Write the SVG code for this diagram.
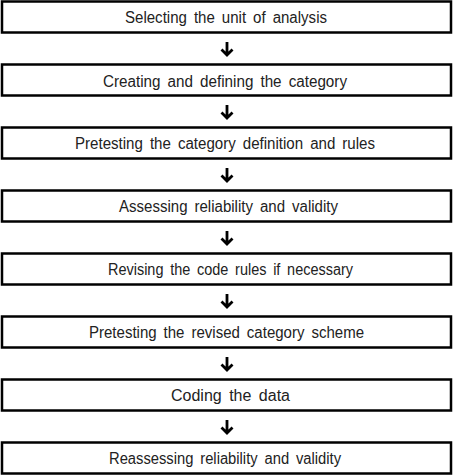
<svg xmlns="http://www.w3.org/2000/svg" width="453" height="476" viewBox="0 0 453 476">
<defs>
<style>
.box rect{fill:#fff;stroke:#000;stroke-width:2.5}
.box text{font-family:"Liberation Sans",Arial,sans-serif;font-size:16px;fill:#222;text-anchor:middle;word-spacing:3px}
.conn path{fill:none;stroke:#000;stroke-width:2.8;stroke-linecap:butt;stroke-linejoin:miter}
</style>
</defs>
<rect width="453" height="476" fill="#fff"/>
<g id="n1" class="box"><rect x="2" y="1.5" width="449" height="31"/><text x="226" y="23" textLength="202" lengthAdjust="spacingAndGlyphs">Selecting the unit of analysis</text></g>
<g id="n2" class="box"><rect x="2" y="64.5" width="449" height="31"/><text x="225" y="86.5" textLength="244" lengthAdjust="spacingAndGlyphs">Creating and defining the category</text></g>
<g id="n3" class="box"><rect x="2" y="127.5" width="449" height="31"/><text x="225" y="149" textLength="300" lengthAdjust="spacingAndGlyphs">Pretesting the category definition and rules</text></g>
<g id="n4" class="box"><rect x="2" y="190.5" width="449" height="31"/><text x="228.5" y="212" textLength="219" lengthAdjust="spacingAndGlyphs">Assessing reliability and validity</text></g>
<g id="n5" class="box"><rect x="2" y="253.5" width="449" height="31"/><text x="230.5" y="275" textLength="245" lengthAdjust="spacingAndGlyphs">Revising the code rules if necessary</text></g>
<g id="n6" class="box"><rect x="2" y="316.5" width="449" height="31"/><text x="226.5" y="338" textLength="275" lengthAdjust="spacingAndGlyphs">Pretesting the revised category scheme</text></g>
<g id="n7" class="box"><rect x="2" y="379.5" width="449" height="31"/><text x="230.5" y="401" textLength="119" lengthAdjust="spacingAndGlyphs">Coding the data</text></g>
<g id="n8" class="box"><rect x="2" y="442.5" width="449" height="31"/><text x="225" y="464" textLength="232" lengthAdjust="spacingAndGlyphs">Reassessing reliability and validity</text></g>
<g id="connectors" class="conn">
<path d="M227 42V55M221.5 49.5L227 55L232.5 49.5"/>
<path d="M227 105V118M221.5 112.5L227 118L232.5 112.5"/>
<path d="M227 168V181M221.5 175.5L227 181L232.5 175.5"/>
<path d="M227 231V244M221.5 238.5L227 244L232.5 238.5"/>
<path d="M227 294V307M221.5 301.5L227 307L232.5 301.5"/>
<path d="M227 357V370M221.5 364.5L227 370L232.5 364.5"/>
<path d="M227 420V433M221.5 427.5L227 433L232.5 427.5"/>
</g>
</svg>
